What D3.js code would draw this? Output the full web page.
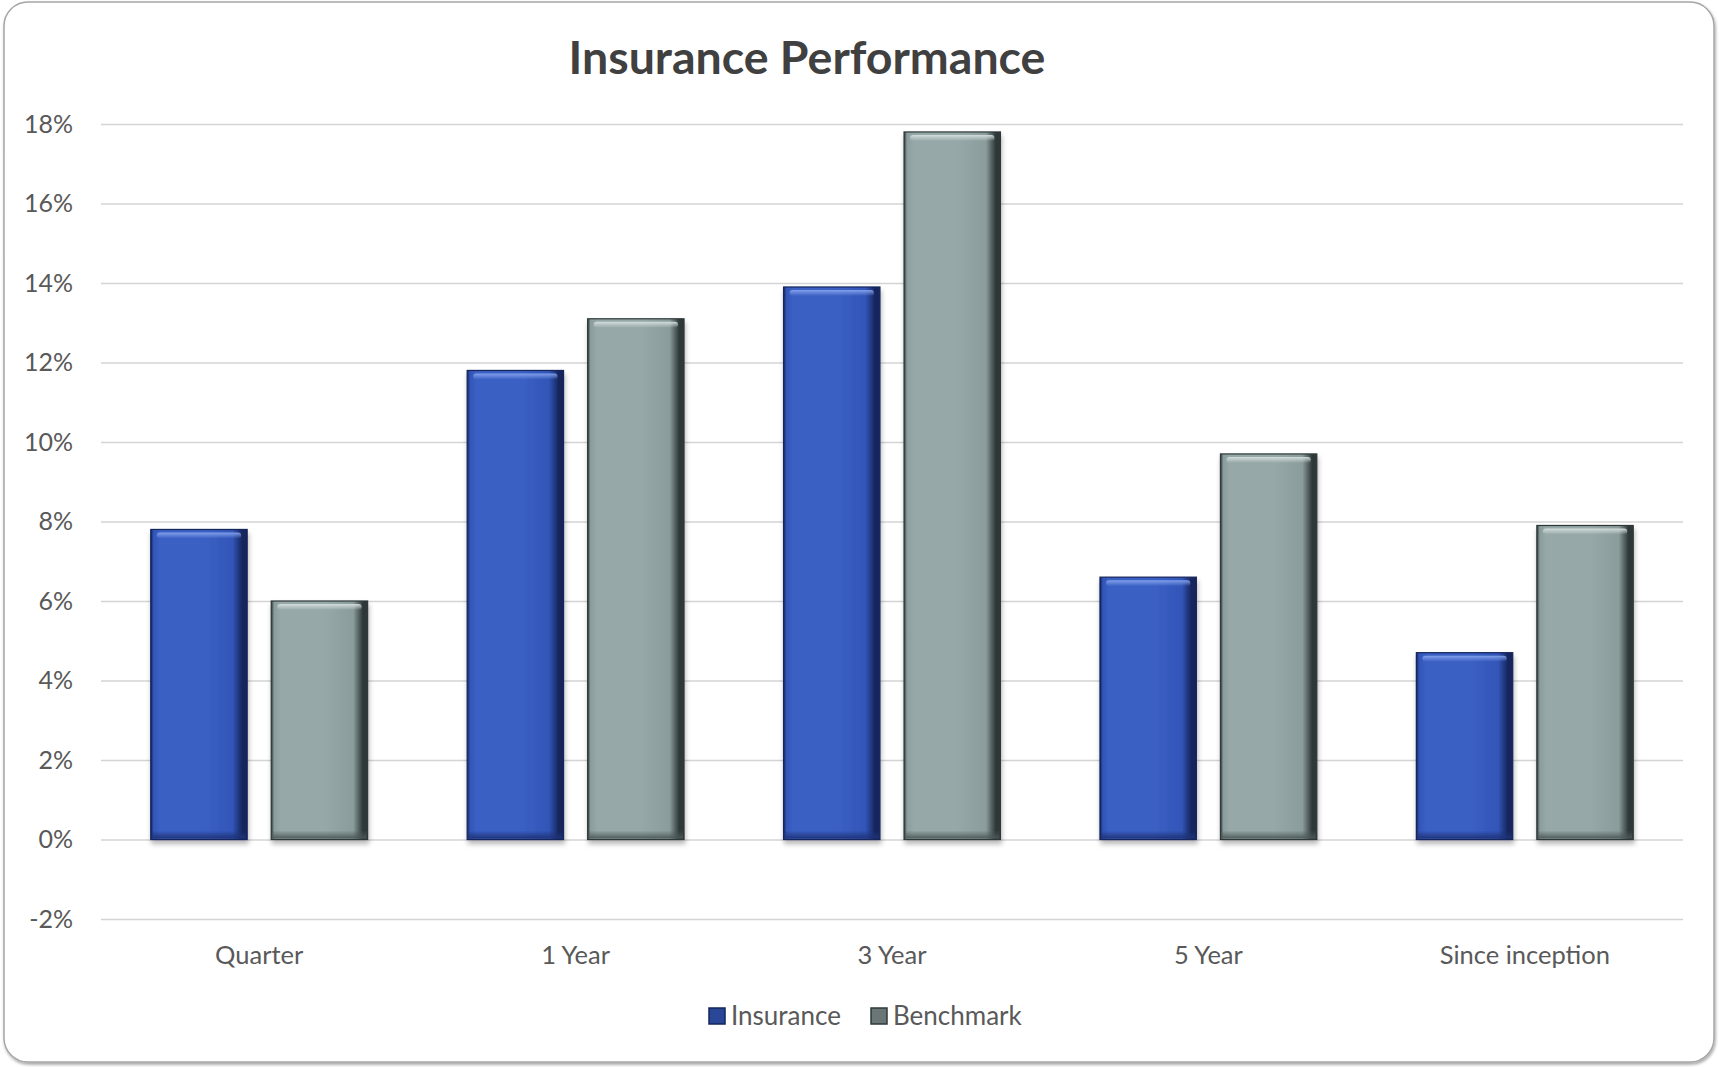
<!DOCTYPE html>
<html>
<head>
<meta charset="utf-8">
<script src="https://cdn.jsdelivr.net/npm/d3@7"></script>
<style>
  html, body { margin: 0; padding: 0; background: #ffffff; }
  svg { display: block; }
  text { font-family: Lato, "Open Sans", sans-serif; }
</style>
</head>
<body>
<svg id="chart" width="1719" height="1067"></svg>
<script>
// Performance by period, in percent
const categories = ["Quarter", "1 Year", "3 Year", "5 Year", "Since inception"];
const insurance  = [7.8, 11.8, 13.9, 6.6, 4.7];
const benchmark  = [6.0, 13.1, 17.8, 9.7, 7.9];
const seriesNames = ["Insurance", "Benchmark"];
const yTicks = [-2, 0, 2, 4, 6, 8, 10, 12, 14, 16, 18];
const titleText = "Insurance Performance";

const W = 1719, H = 1067;
const margin = { left: 101, right: 36, top: 124, bottom: 148 };
const plotR = W - margin.right;
const svg = d3.select("#chart");
const defs = svg.append("defs");

// colour sets for the bevelled bars
const palettes = {
  Insurance: { base: "#3b60c4", mid: "#3255b8", dark: "#15255c", light: "#86a4ee", bottom: "#1e3276", key: "#2a4696" },
  Benchmark: { base: "#97a8a8", mid: "#8b9c9c", dark: "#2f3838", light: "#d6e0e0", bottom: "#4c5858", key: "#6a7676" }
};

// card frame shadow
const fs = defs.append("filter").attr("id", "cardShadow").attr("x", "-2%").attr("y", "-2%").attr("width", "104%").attr("height", "104%");
fs.append("feDropShadow").attr("dx", 1).attr("dy", 2).attr("stdDeviation", 1.5).attr("flood-color", "#000").attr("flood-opacity", 0.35);

const bs = defs.append("filter").attr("id", "barShadow").attr("x", "-20%").attr("y", "-5%").attr("width", "140%").attr("height", "115%");
bs.append("feDropShadow").attr("dx", 1).attr("dy", 4).attr("stdDeviation", 2.5).attr("flood-color", "#000").attr("flood-opacity", 0.28);

const soft = defs.append("filter").attr("id", "soft");
soft.append("feGaussianBlur").attr("stdDeviation", 0.6);

seriesNames.forEach(name => {
  const p = palettes[name];
  const g = defs.append("linearGradient").attr("id", "h-" + name)
    .attr("x1", 0).attr("x2", 1).attr("y1", 0).attr("y2", 0);
  [[0, p.dark], [0.03, p.mid], [0.1, p.base], [0.55, p.base], [0.85, p.mid], [0.95, p.dark], [1, p.dark]]
    .forEach(([o, c]) => g.append("stop").attr("offset", o).attr("stop-color", c));
  const t = defs.append("linearGradient").attr("id", "t-" + name)
    .attr("x1", 0).attr("x2", 0).attr("y1", 0).attr("y2", 1);
  [[0, p.light, 0.95], [1, p.light, 0.0]]
    .forEach(([o, c, a]) => t.append("stop").attr("offset", o).attr("stop-color", c).attr("stop-opacity", a));
  const b = defs.append("linearGradient").attr("id", "b-" + name)
    .attr("x1", 0).attr("x2", 0).attr("y1", 0).attr("y2", 1);
  [[0, p.bottom, 0.0], [1, p.bottom, 0.95]]
    .forEach(([o, c, a]) => b.append("stop").attr("offset", o).attr("stop-color", c).attr("stop-opacity", a));
});

// card
svg.append("rect")
  .attr("x", 4).attr("y", 2).attr("width", W - 9).attr("height", H - 7)
  .attr("rx", 24).attr("ry", 24)
  .attr("fill", "#ffffff").attr("stroke", "#a6a6a6").attr("stroke-width", 1.5)
  .attr("filter", "url(#cardShadow)");

// scales
const x0 = d3.scaleBand().domain(categories).range([margin.left, plotR]).padding(0);
const x1 = d3.scaleBand().domain(seriesNames).range([0, x0.bandwidth()])
  .paddingInner(0.2).paddingOuter(0.413);
const y = d3.scaleLinear().domain([-2, 18]).range([H - margin.bottom, margin.top]);

// gridlines
svg.append("g")
  .attr("transform", `translate(${margin.left},0)`)
  .call(d3.axisLeft(y).tickValues(yTicks).tickSize(-(plotR - margin.left)).tickFormat(""))
  .call(g => g.select(".domain").remove())
  .call(g => g.selectAll("line").attr("stroke", "#d4d4d4").attr("stroke-width", 1.6));

// y tick labels
svg.append("g")
  .attr("transform", `translate(${margin.left},0)`)
  .call(d3.axisLeft(y).tickValues(yTicks).tickSize(0).tickPadding(28).tickFormat(d => d + "%"))
  .call(g => g.select(".domain").remove())
  .call(g => g.selectAll("text").attr("fill", "#595959").style("font-size", "25px"));

// category labels
svg.append("g")
  .attr("transform", `translate(0,${y(-2)})`)
  .call(d3.axisBottom(x0).tickSize(0).tickPadding(27))
  .call(g => g.select(".domain").remove())
  .call(g => g.selectAll("text").attr("fill", "#595959").style("font-size", "25.5px"));

// bars
const rows = categories.map((c, i) => ({ cat: c, vals: [
  { key: "Insurance", v: insurance[i] },
  { key: "Benchmark", v: benchmark[i] }
]}));

const groups = svg.append("g").attr("filter", "url(#soft)")
  .selectAll("g.cat").data(rows).join("g")
  .attr("class", "cat")
  .attr("transform", d => `translate(${x0(d.cat)},0)`);

const bar = groups.selectAll("g.bar").data(d => d.vals).join("g").attr("class", "bar")
  .attr("transform", d => `translate(${x1(d.key)},${y(d.v)})`);

const bw = x1.bandwidth();
const hOf = d => y(0) - y(d.v);

bar.append("rect")
  .attr("width", bw).attr("height", hOf)
  .attr("fill", d => `url(#h-${d.key})`)
  .attr("stroke", d => palettes[d.key].dark).attr("stroke-width", 1.2)
  .attr("filter", "url(#barShadow)");

// bottom dark band
bar.append("rect")
  .attr("x", 1).attr("y", d => hOf(d) - 9)
  .attr("width", bw - 2).attr("height", 8)
  .attr("fill", d => `url(#b-${d.key})`);

// top light bevel
bar.append("rect")
  .attr("x", 6).attr("y", 3)
  .attr("width", bw - 12).attr("height", 6)
  .attr("rx", 3)
  .attr("fill", d => `url(#t-${d.key})`);

// title
svg.append("text")
  .attr("x", 807).attr("y", 74)
  .attr("text-anchor", "middle")
  .attr("fill", "#404040")
  .style("font-size", "46.5px").style("font-weight", "bold")
  .text(titleText);

// legend
const legend = svg.append("g").attr("transform", "translate(0,1016)");
const legendPos = [709, 871];
seriesNames.forEach((name, i) => {
  const lg = legend.append("g").attr("transform", `translate(${legendPos[i]},0)`);
  lg.append("rect").attr("x", 0).attr("y", -8).attr("width", 16).attr("height", 16)
    .attr("fill", palettes[name].key).attr("stroke", palettes[name].dark).attr("stroke-width", 1.5);
  lg.append("text").attr("x", 22).attr("y", 0).attr("dy", "0.35em")
    .attr("fill", "#595959").style("font-size", "26px").text(name);
});
</script>
</body>
</html>
